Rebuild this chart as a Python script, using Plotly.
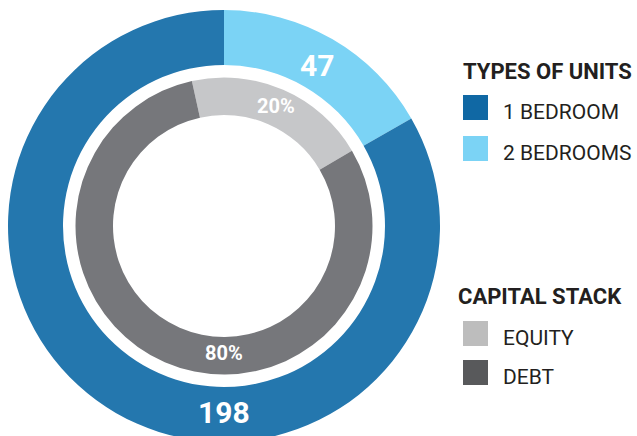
import math
import plotly.graph_objects as go

# ---- data ----
unit_types = ["2 BEDROOMS", "1 BEDROOM"]
unit_counts = [47, 198]                  # labels printed on the ring
unit_arc_share = [16.7, 83.3]            # share of the ring each arc covers, as drawn
capital_parts = ["EQUITY", "DEBT"]
capital_shares = [20, 80]

unit_colors = ["#7BD3F5", "#2477AE"]
capital_colors = ["#C6C7C9", "#76777B"]
legend_units_colors = ["#1068A4", "#7BD3F5"]
legend_cap_colors = ["#BDBDBD", "#58595B"]

W, H = 637, 442          # figure slightly taller than window so ring bottom is clipped
CX, CY = 224, 226        # ring centre in px (from top-left)
R_OUT, R_OUT_IN = 216, 161
R_IN, R_IN_IN = 148.5, 111
INNER_ROT = -12.5

FONT = "Roboto"

fig = go.Figure()

def dom(r):
    return dict(x=[(CX - r) / W, (CX + r) / W],
                y=[(H - CY - r) / H, (H - CY + r) / H])

fig.add_trace(go.Pie(
    labels=unit_types, values=unit_arc_share, sort=False, direction="clockwise",
    rotation=0, hole=R_OUT_IN / R_OUT, domain=dom(R_OUT),
    customdata=unit_counts,
    marker=dict(colors=unit_colors, line=dict(width=0)),
    textinfo="none", hovertemplate="%{label}: %{customdata}<extra></extra>", showlegend=False))

fig.add_trace(go.Pie(
    labels=capital_parts, values=capital_shares, sort=False, direction="clockwise",
    rotation=INNER_ROT, hole=R_IN_IN / R_IN, domain=dom(R_IN),
    marker=dict(colors=capital_colors, line=dict(width=0)),
    textinfo="none", hoverinfo="label+percent", showlegend=False))

def px_to_paper(x, y):
    return x / W, (H - y) / H

annotations = []

def label_at(angle_deg, radius, text, size):
    a = math.radians(angle_deg)
    x = CX + radius * math.sin(a)
    y = CY - radius * math.cos(a)
    px, py = px_to_paper(x, y)
    annotations.append(dict(x=px, y=py, xref="paper", yref="paper", text=text,
                            showarrow=False, xanchor="center", yanchor="middle",
                            font=dict(family=FONT, size=size, color="white", weight="bold")))

tot_u = sum(unit_arc_share)
mid_small = 360 * unit_arc_share[0] / tot_u / 2
label_at(mid_small, (R_OUT + R_OUT_IN) / 2 - 3, str(unit_counts[0]), 30)
label_at(180, (R_OUT + R_OUT_IN) / 2 - 2, str(unit_counts[1]), 30)

tot_c = sum(capital_shares)
mid_c = INNER_ROT + 360 * capital_shares[0] / tot_c / 2
label_at(mid_c, (R_IN + R_IN_IN) / 2 + 1, f"{capital_shares[0]}%", 20)
label_at(180, (R_IN + R_IN_IN) / 2 - 3, f"{capital_shares[1]}%", 20)

# ---- custom legends ----
shapes = []
def legend_block(title, title_x, title_y, names, colors, first_y, gap):
    tx, ty = px_to_paper(title_x, title_y)
    annotations.append(dict(x=tx, y=ty, xref="paper", yref="paper", text=title,
                            showarrow=False, xanchor="left", yanchor="middle",
                            font=dict(family=FONT, size=22, color="#231F20", weight="bold")))
    for i, (n, c) in enumerate(zip(names, colors)):
        y0 = first_y + i * gap
        x0p, y0p = px_to_paper(463, y0)
        x1p, y1p = px_to_paper(488, y0 + 25)
        shapes.append(dict(type="rect", xref="paper", yref="paper",
                           x0=x0p, x1=x1p, y0=y1p, y1=y0p,
                           fillcolor=c, line=dict(width=0)))
        lx, ly = px_to_paper(501, y0 + 17)
        annotations.append(dict(x=lx, y=ly, xref="paper", yref="paper", text=n,
                                showarrow=False, xanchor="left", yanchor="middle",
                                font=dict(family=FONT, size=21, color="#231F20")))

legend_block("TYPES OF UNITS", 461, 71, ["1 BEDROOM", "2 BEDROOMS"], legend_units_colors, 95, 41)
legend_block("CAPITAL STACK", 456, 296, ["EQUITY", "DEBT"], legend_cap_colors, 321, 39)

fig.update_layout(width=W, height=H, margin=dict(l=0, r=0, t=0, b=0),
                  paper_bgcolor="white", plot_bgcolor="white",
                  annotations=annotations, shapes=shapes, showlegend=False)

fig.write_html("out.html", config={"displayModeBar": False},
               post_script="document.documentElement.style.overflow='hidden';document.body.style.overflow='hidden';document.body.style.margin='0';")
